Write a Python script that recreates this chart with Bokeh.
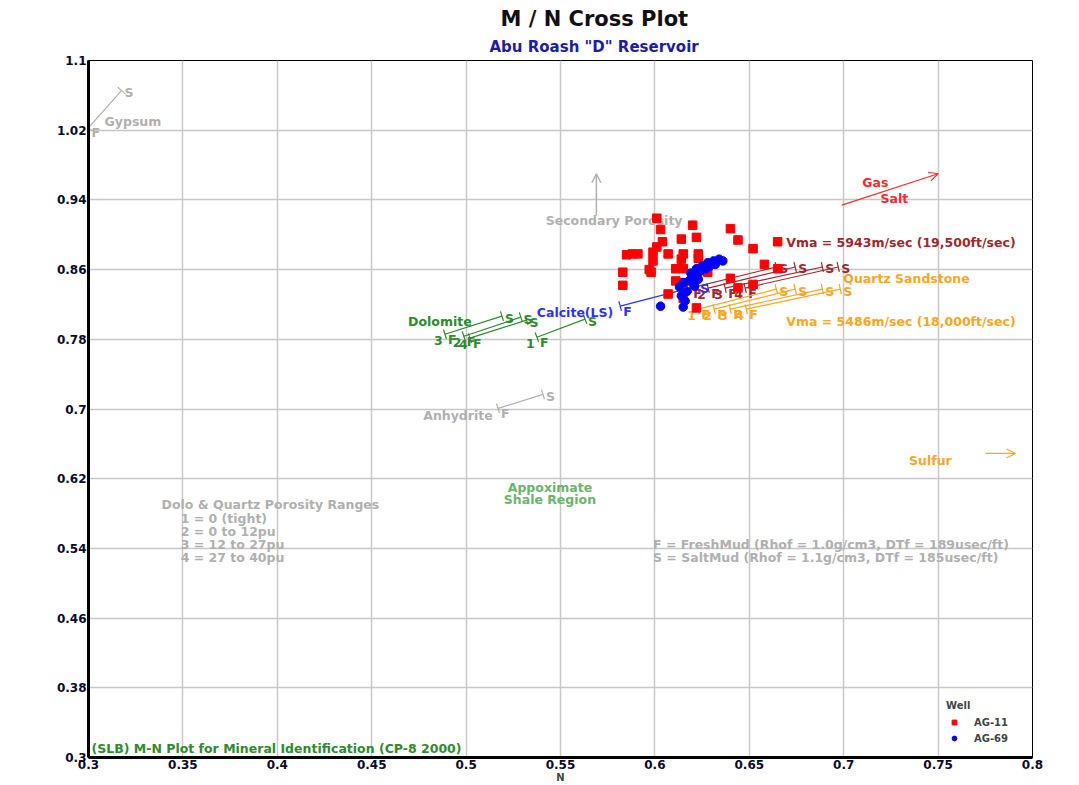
from bokeh.plotting import figure
from bokeh.models import ColumnDataSource, FixedTicker, Title, Legend, LegendItem, Arrow, OpenHead
from bokeh.core.properties import value
from bokeh.embed import file_html
from bokeh.resources import INLINE

FONT = "DejaVu Sans"

# ---------------- data ----------------
ag11_n = [0.601, 0.620, 0.603, 0.640, 0.604, 0.614, 0.622, 0.644, 0.601, 0.652,
          0.665, 0.585, 0.588, 0.591, 0.599, 0.607, 0.615, 0.623, 0.599, 0.614,
          0.623, 0.658, 0.583, 0.597, 0.598, 0.611, 0.615, 0.624, 0.628, 0.665,
          0.583, 0.611, 0.607, 0.640, 0.644, 0.652, 0.615, 0.615, 0.622]
ag11_m = [0.919, 0.911, 0.906, 0.907, 0.892, 0.895, 0.897, 0.894, 0.886, 0.884,
          0.892, 0.877, 0.878, 0.878, 0.880, 0.878, 0.878, 0.878, 0.870, 0.872,
          0.873, 0.866, 0.857, 0.860, 0.857, 0.861, 0.861, 0.861, 0.857, 0.861,
          0.842, 0.847, 0.832, 0.850, 0.839, 0.843, 0.845, 0.827, 0.816]

ag69_n = [0.603, 0.615, 0.616, 0.614, 0.613, 0.615, 0.619, 0.621, 0.622, 0.625,
          0.628, 0.631, 0.634, 0.636, 0.620, 0.623, 0.617, 0.619, 0.624, 0.627,
          0.618, 0.621, 0.629, 0.632]
ag69_m = [0.818, 0.817, 0.824, 0.830, 0.840, 0.845, 0.849, 0.855, 0.861, 0.864,
          0.868, 0.870, 0.872, 0.870, 0.845, 0.849, 0.835, 0.856, 0.858, 0.861,
          0.847, 0.841, 0.864, 0.866]

x_ticks = [0.3, 0.35, 0.4, 0.45, 0.5, 0.55, 0.6, 0.65, 0.7, 0.75, 0.8]
x_tick_labels = ["0.3", "0.35", "0.4", "0.45", "0.5", "0.55", "0.6", "0.65", "0.7", "0.75", "0.8"]
y_ticks = [0.3, 0.38, 0.46, 0.54, 0.62, 0.7, 0.78, 0.86, 0.94, 1.02, 1.1]
y_tick_labels = ["0.3", "0.38", "0.46", "0.54", "0.62", "0.7", "0.78", "0.86", "0.94", "1.02", "1.1"]

# mineral lines (fresh-mud point F -> salt-mud point S)
porosity_labels = ["1", "2", "3", "4"]
dol_f_n = [0.5375, 0.4988, 0.4888, 0.5020]
dol_f_m = [0.7824, 0.7835, 0.7858, 0.7813]
dol_s_n = [0.5630, 0.5290, 0.5190, 0.5320]
dol_s_m = [0.8031, 0.8054, 0.8066, 0.8020]

ss1_f_n = [0.6187, 0.6282, 0.6372, 0.6478]
ss1_f_m = [0.8388, 0.8388, 0.8388, 0.8388]
ss1_s_n = [0.6643, 0.6743, 0.6887, 0.6971]
ss1_s_m = [0.8630, 0.8630, 0.8630, 0.8630]

ss2_f_n = [0.6229, 0.6314, 0.6399, 0.6484]
ss2_f_m = [0.8146, 0.8146, 0.8146, 0.8146]
ss2_s_n = [0.6643, 0.6743, 0.6887, 0.6982]
ss2_s_m = [0.8376, 0.8376, 0.8376, 0.8376]

calcite_f = (0.5816, 0.8181)
calcite_s = (0.6224, 0.8411)
anhydrite_f = (0.5169, 0.7007)
anhydrite_s = (0.5407, 0.7168)
gypsum_f = (0.3000, 1.0229)
gypsum_s = (0.3175, 1.0655)

# ---------------- colours ----------------
GRAY = "#b0b0b0"
GREEN = "#2e8b2e"
LGREEN = "#6cb46c"
BLUE = "#3030ff"
BROWN = "#a3262e"
ORANGE = "#ffa51f"
RED = "#ff2a2a"

p = figure(width=1075, height=785, x_range=(0.3, 0.8), y_range=(0.3, 1.1),
           output_backend="svg", toolbar_location=None,
           title="M / N Cross Plot", x_axis_label="N",
           min_border_left=88, min_border_right=43, min_border_top=60, min_border_bottom=20)

p.title.align = "left"
p.title.offset = 412
p.title.text_color = "#111111"
p.title.text_font = FONT
p.title.text_font_size = "21px"
p.title.text_font_style = "bold"
p.title.standoff = 2
sub_title = Title(text='Abu Roash "D" Reservoir', align="left", offset=401, text_font=FONT,
                  text_font_size="15px", text_font_style="bold", text_color="#1c1ca8", standoff=9)
p.add_layout(sub_title, "above")

for ax in (p.xaxis[0], p.yaxis[0]):
    ax.major_tick_line_color = None
    ax.minor_tick_line_color = None
    ax.major_tick_out = 0
    ax.major_tick_in = 0
    ax.minor_tick_out = 0
    ax.axis_line_width = 3
    ax.axis_line_color = "black"
    ax.major_label_text_font = FONT
    ax.major_label_text_font_size = "12px"
    ax.major_label_text_font_style = "bold"
    ax.major_label_text_color = "#0a0a2a"
    ax.major_label_standoff = 2

p.xaxis.ticker = FixedTicker(ticks=x_ticks)
p.yaxis.ticker = FixedTicker(ticks=y_ticks)
p.xaxis.major_label_overrides = dict(zip(x_ticks, x_tick_labels))
p.yaxis.major_label_overrides = dict(zip(y_ticks, y_tick_labels))
p.xaxis.axis_label_text_font = FONT
p.xaxis.axis_label_text_font_size = "10px"
p.xaxis.axis_label_text_font_style = "bold"
p.xaxis.axis_label_standoff = 0

p.xgrid.grid_line_color = "#c8c8c8"
p.ygrid.grid_line_color = "#c8c8c8"
p.xgrid.grid_line_width = 1.5
p.ygrid.grid_line_width = 1.5
p.outline_line_color = "black"
p.outline_line_width = 1
p.outline_line_alpha = 1

PXN = 1886.0  # approx pixels per unit N
PXM = 869.0   # approx pixels per unit M
TS = "12.5px"


def end_ticks(fn, fm, sn, sm, half=5.0):
    x0s, y0s, x1s, y1s = [], [], [], []
    for a, b, c, d in zip(fn, fm, sn, sm):
        dx = (c - a) * PXN
        dy = (d - b) * PXM
        L = (dx * dx + dy * dy) ** 0.5
        px, py = -dy / L * half, dx / L * half
        for (x, y) in ((a, b), (c, d)):
            x0s.append(x - px / PXN)
            y0s.append(y - py / PXM)
            x1s.append(x + px / PXN)
            y1s.append(y + py / PXM)
    return x0s, y0s, x1s, y1s


def mineral(fn, fm, sn, sm, color, nums=None, width=1.2):
    p.segment(fn, fm, sn, sm, line_color=color, line_width=width)
    x0, y0, x1, y1 = end_ticks(fn, fm, sn, sm)
    p.segment(x0, y0, x1, y1, line_color=color, line_width=width)
    tf = value(FONT)
    p.text(sn, sm, text=["S"] * len(sn), text_color=color, text_font=tf, text_font_size=TS,
           text_font_style="bold", x_offset=3, y_offset=2, text_baseline="middle")
    p.text(fn, fm, text=["F"] * len(fn), text_color=color, text_font=tf, text_font_size=TS,
           text_font_style="bold", x_offset=3, y_offset=5, text_baseline="middle")
    if nums:
        p.text(fn, fm, text=nums, text_color=color, text_font=tf, text_font_size=TS,
               text_font_style="bold", x_offset=-11, y_offset=6, text_baseline="middle")


mineral(dol_f_n, dol_f_m, dol_s_n, dol_s_m, GREEN, porosity_labels)
mineral(ss1_f_n, ss1_f_m, ss1_s_n, ss1_s_m, BROWN, porosity_labels)
mineral(ss2_f_n, ss2_f_m, ss2_s_n, ss2_s_m, ORANGE, porosity_labels)
mineral([calcite_f[0]], [calcite_f[1]], [calcite_s[0]], [calcite_s[1]], BLUE)
mineral([anhydrite_f[0]], [anhydrite_f[1]], [anhydrite_s[0]], [anhydrite_s[1]], GRAY)
mineral([gypsum_f[0]], [gypsum_f[1]], [gypsum_s[0]], [gypsum_s[1]], GRAY)

# arrows
p.add_layout(Arrow(end=OpenHead(size=9, line_color=GRAY, line_width=1.5), x_start=0.569, y_start=0.922,
                   x_end=0.569, y_end=0.970, line_color=GRAY, line_width=1.5))
p.add_layout(Arrow(end=OpenHead(size=9, line_color=RED, line_width=1.2), x_start=0.699, y_start=0.934,
                   x_end=0.750, y_end=0.970, line_color=RED, line_width=1.2))
p.add_layout(Arrow(end=OpenHead(size=9, line_color=ORANGE, line_width=1.2), x_start=0.775, y_start=0.649,
                   x_end=0.791, y_end=0.649, line_color=ORANGE, line_width=1.2))

# texts
ann_text = ["Gypsum", "Secondary Porosity", "Gas", "Salt", "Sulfur", "Anhydrite", "Dolomite",
            "Calcite(LS)", "Vma = 5943m/sec (19,500ft/sec)", "Quartz Sandstone",
            "Vma = 5486m/sec (18,000ft/sec)", "Appoximate", "Shale Region",
            "Dolo & Quartz Porosity Ranges", "1 = 0 (tight)", "2 = 0 to 12pu", "3 = 12 to 27pu",
            "4 = 27 to 40pu", "F = FreshMud (Rhof = 1.0g/cm3, DTf = 189usec/ft)",
            "S = SaltMud (Rhof = 1.1g/cm3, DTf = 185usec/ft)",
            "(SLB) M-N Plot for Mineral Identification (CP-8 2000)"]
ann_n = [0.3085, 0.5784, 0.7168, 0.7268, 0.7459, 0.4957, 0.4861,
         0.5577, 0.6696, 0.6998,
         0.6696, 0.5444, 0.5444,
         0.3387, 0.3488, 0.3488, 0.3488,
         0.3488, 0.5990,
         0.5990,
         0.3016]
ann_m = [1.0298, 0.9159, 0.9596, 0.9412, 0.6409, 0.6926, 0.8008,
         0.8112, 0.8906, 0.8503,
         0.8008, 0.6098, 0.5960,
         0.5902, 0.5741, 0.5591, 0.5442,
         0.5292, 0.5442,
         0.5292,
         0.3106]
ann_align = ["left", "center", "center", "center", "center", "center", "center",
             "center", "left", "left",
             "left", "center", "center",
             "left", "left", "left", "left",
             "left", "left",
             "left",
             "left"]
ann_color = [GRAY, GRAY, RED, RED, ORANGE, GRAY, GREEN,
             BLUE, BROWN, ORANGE,
             ORANGE, LGREEN, LGREEN,
             GRAY, GRAY, GRAY, GRAY,
             GRAY, GRAY,
             GRAY,
             GREEN]
ann_src = ColumnDataSource(dict(x=ann_n, y=ann_m, text=ann_text, align=ann_align, color=ann_color))
p.text("x", "y", text="text", source=ann_src, text_align="align", text_color="color",
       text_baseline="middle", text_font=value(FONT), text_font_size=TS, text_font_style="bold")

# data points
r11 = p.scatter(ag11_n, ag11_m, marker="square", size=8.5, fill_color="#ff0000", line_color="#ff0000")
r69 = p.scatter(ag69_n, ag69_m, marker="circle", size=8.5, fill_color="#0000ff", line_color="#0000ff")

legend = Legend(items=[LegendItem(label="AG-11", renderers=[r11]),
                       LegendItem(label="AG-69", renderers=[r69])],
                title="Well", location=(858, 13))
legend.title_text_font = FONT
legend.title_text_font_size = "10px"
legend.title_text_font_style = "bold"
legend.label_text_font = FONT
legend.label_text_font_size = "10px"
legend.label_text_font_style = "bold"
legend.background_fill_alpha = 0
legend.border_line_color = None
legend.glyph_width = 16
legend.glyph_height = 12
legend.spacing = 4
legend.padding = 4
legend.margin = 0
legend.label_standoff = 12
p.add_layout(legend)

open("out.html", "w").write(file_html(p, INLINE))
